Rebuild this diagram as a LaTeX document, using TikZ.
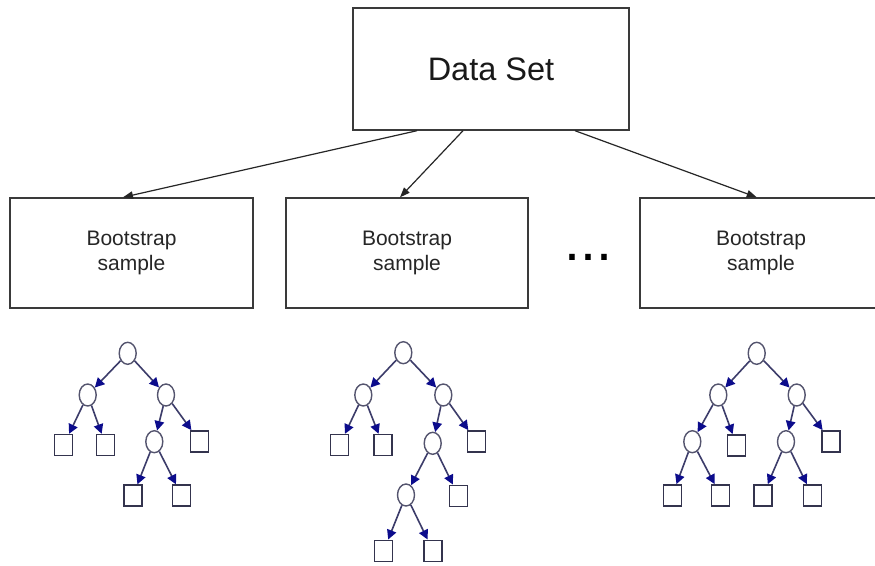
\documentclass[tikz,border=0pt]{standalone}
\usepackage{fontspec}
\setmainfont{Liberation Sans}
\usetikzlibrary{arrows.meta,shapes.geometric}

\definecolor{boxline}{HTML}{3A3A3A}
\definecolor{treeline}{HTML}{3C3C6A}
\definecolor{treehead}{HTML}{0C0C8C}
\definecolor{ovalline}{HTML}{54546E}
\definecolor{leafline}{HTML}{34344E}

\tikzset{
  topbox/.style={draw=boxline, line width=1.4pt, minimum width=276pt, minimum height=122pt,
    inner sep=0pt, font=\fontsize{32.5}{38}\selectfont, text=black!90},
  sbox/.style={draw=boxline, line width=1.4pt, minimum width=242pt, minimum height=110pt,
    inner sep=0pt, align=center, font=\fontsize{21}{24.5}\selectfont, text=black!85},
  feed/.style={draw=black!85, line width=1.2pt, -{Triangle[length=10pt,width=7.5pt]}},
  inode/.style={ellipse, draw=ovalline, line width=1.4pt, minimum width=17pt, minimum height=22pt,
    inner sep=0pt, fill=white},
  leaf/.style={rectangle, draw=leafline, line width=1.4pt, minimum width=18pt, minimum height=21pt,
    inner sep=0pt, fill=white},
  tarrow/.style={draw=treeline, line width=1.6pt,
    -{Triangle[length=9.5pt,width=9.5pt,color=treehead]}},
}

\begin{document}
\begin{tikzpicture}[x=1pt,y=-1pt]
  \useasboundingbox (0,0) rectangle (875,565);
  \fill[white] (0,0) rectangle (875,565);
  \clip (0,0) rectangle (875,565);

  % data set and the three resamples
  \node[topbox] (ds) at (491,69) {Data Set};
  \node[sbox, minimum width=243pt] (b1) at (131.5,253) {Bootstrap\\sample};
  \node[sbox] (b2) at (407,253) {Bootstrap\\sample};
  \node[sbox] (b3) at (761,253) {Bootstrap\\sample};
  \node[anchor=base, inner sep=0pt, font=\fontsize{57.5}{60}\selectfont] (dots) at (588,260.5) {...};

  \draw[feed] ([xshift=-74pt]ds.south) -- ([xshift=-8.5pt]b1.north);
  \draw[feed] ([xshift=-28pt]ds.south) -- ([xshift=-7pt]b2.north);
  \draw[feed] ([xshift=84pt]ds.south) -- ([xshift=-4.3pt]b3.north);

  % tree grown on the first sample
  \node[inode] (t1r) at (127.7,353.3) {};
  \node[inode] (t1a) at (87.7,395) {};
  \node[inode] (t1b) at (166,395) {};
  \node[leaf]  (t1c) at (63.7,445) {};
  \node[leaf]  (t1d) at (105.7,445) {};
  \node[inode] (t1e) at (154.3,441.7) {};
  \node[leaf]  (t1f) at (199.5,441.3) {};
  \node[leaf]  (t1g) at (133,495.5) {};
  \node[leaf]  (t1h) at (181.7,495.5) {};
  \foreach \p/\c in {t1r/t1a, t1r/t1b, t1a/t1c, t1a/t1d, t1b/t1e, t1b/t1f, t1e/t1g, t1e/t1h}
    \draw[tarrow] (\p) -- (\c);

  % tree grown on the second sample
  \node[inode] (t2r) at (403.3,352.7) {};
  \node[inode] (t2a) at (363.3,395) {};
  \node[inode] (t2b) at (443.3,395) {};
  \node[leaf]  (t2c) at (339.7,445) {};
  \node[leaf]  (t2d) at (383,445) {};
  \node[inode] (t2e) at (432.7,443.3) {};
  \node[leaf]  (t2f) at (476.3,441.3) {};
  \node[inode] (t2g) at (406,495) {};
  \node[leaf]  (t2h) at (458.3,495.7) {};
  \node[leaf]  (t2i) at (383.7,550.7) {};
  \node[leaf]  (t2j) at (433,550.7) {};
  \foreach \p/\c in {t2r/t2a, t2r/t2b, t2a/t2c, t2a/t2d, t2b/t2e, t2b/t2f, t2e/t2g, t2e/t2h, t2g/t2i, t2g/t2j}
    \draw[tarrow] (\p) -- (\c);

  % tree grown on the last sample
  \node[inode] (t3r) at (756.7,353.3) {};
  \node[inode] (t3a) at (718.3,395) {};
  \node[inode] (t3b) at (796.7,395) {};
  \node[inode] (t3c) at (692.3,441.7) {};
  \node[leaf]  (t3d) at (736.7,445.3) {};
  \node[inode] (t3e) at (786,441.7) {};
  \node[leaf]  (t3f) at (830.8,441.3) {};
  \node[leaf]  (t3g) at (672.3,495.3) {};
  \node[leaf]  (t3h) at (720.5,495.3) {};
  \node[leaf]  (t3i) at (763,495.3) {};
  \node[leaf]  (t3j) at (812.3,495.3) {};
  \foreach \p/\c in {t3r/t3a, t3r/t3b, t3a/t3c, t3a/t3d, t3b/t3e, t3b/t3f, t3c/t3g, t3c/t3h, t3e/t3i, t3e/t3j}
    \draw[tarrow] (\p) -- (\c);
\end{tikzpicture}
\end{document}
